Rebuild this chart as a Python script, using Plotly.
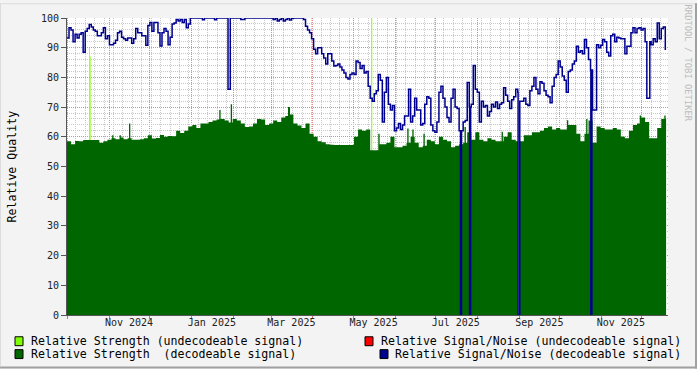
import plotly.graph_objects as go
import pandas as pd

# ---------------- data ----------------
START = pd.Timestamp('2024-09-30 12:00')    # first sample
END = pd.Timestamp('2025-12-19 02:00')      # last data time
X_RANGE = ['2024-09-30 12:00', '2025-12-20 12:00']

# Relative Signal/Noise (decodeable signal), one value per 1.5 days
SNR_STEP_DAYS = 1.5
snr_dec = [
    93.3, 96.7, 96, 92, 94.5, 93.3, 94.5, 95, 88.5, 95.5,
    96.5, 97.8, 97, 96, 95.5, 94, 94, 95, 96.7, 93,
    94, 91, 91, 91.5, 92.5, 95, 95.5, 93.5, 93, 92.5,
    93.3, 93.3, 91.5, 93, 96.5, 95, 95, 94, 94, 90.8,
    97.5, 98.5, 95.5, 98.5, 98.5, 95, 90.6, 95, 96.5, 95.5,
    91, 93.5, 98, 98.3, 99.5, 99, 99.5, 98.5, 99.5, 96.7,
    98, 100, 100, 100, 100, 100, 100, 99.4, 100, 100,
    100, 100, 100, 99.4, 100, 100, 100, 100, 100, 100,
    100, 100, 100, 100, 100, 100, 99.5, 99.5, 100, 100,
    100, 100, 100, 100, 100, 100, 100, 100, 100, 100,
    100, 100, 99.5, 100, 99, 99.5, 100, 99, 99.5, 100,
    99.3, 99.8, 100, 100, 100, 100, 100, 99.5, 97.2, 96,
    95, 93, 89.5, 88, 90, 90, 88, 86.5, 84.5, 88,
    88, 85.5, 83.8, 84, 84.5, 83.5, 82.5, 81.5, 80, 79.5,
    81, 81.5, 81, 85.5, 85, 83, 84, 81.5, 82, 77,
    73, 72, 74.5, 75.5, 81, 79, 65, 75, 80, 71,
    69, 70.5, 62, 63, 64.5, 62.5, 64, 67, 67, 76,
    65, 67, 73, 69, 69, 64, 64.5, 71, 73.5, 73,
    64, 62, 61.5, 65, 75, 77, 73, 70, 66.5, 65,
    73, 76, 70, 69.5, 62, 62, 65, 65.5, 78.3, 70,
    71, 84, 76, 75, 65, 72, 70, 70.5, 67, 68.5,
    71, 70, 71.7, 69.5, 71, 71.5, 76.5, 74, 72, 69.5,
    72.5, 73.5, 76, 75, 72, 72, 73, 71, 70.5, 75.5,
    77, 80, 76, 74.5, 78.5, 78, 75.5, 74, 73.5, 71.5,
    77, 80, 81, 85.5, 83.5, 80.5, 79, 75, 82, 82.5,
    84.5, 85.5, 90.5, 88.5, 89, 88, 92.8, 90, 86, 82.5,
    69, 69, 91, 90, 90.8, 92.8, 92, 88.5, 87.2, 94,
    94.5, 92, 93.5, 93.3, 93, 93, 88, 90.5, 90.5, 95,
    96.7, 95, 96.5, 96.7, 96, 96.5, 92, 90, 92, 91,
    93, 92, 98.3, 93, 96.5, 97, 89.5, 89.5,
]
# short events in the S/N series: (from, to, value)
snr_events = [
    ('2025-01-28 00:00', '2025-01-29 16:00', 76),
    ('2025-07-19 12:00', '2025-07-20 06:00', 0),
    ('2025-07-26 06:00', '2025-07-27 00:00', 0),
    ('2025-08-31 06:00', '2025-09-01 12:00', 0),
    ('2025-10-24 06:00', '2025-10-25 00:00', 0),
    ('2025-12-04 19:00', '2025-12-07 00:00', 73),
]

# Relative Strength (decodeable signal), one value per 3 days
STR_STEP_DAYS = 3
str_dec = [
    58.5, 57.5, 58.6, 58.5, 58.9, 58.9, 58.9, 58.9, 58, 58.5,
    59, 59.5, 59.2, 59.8, 59.2, 59.5, 59, 59, 59.2, 59.5,
    60.5, 59.4, 59.6, 60.6, 60, 60.3, 60.2, 62, 61.3, 62,
    63.5, 64, 63, 64.5, 64.5, 65, 65.5, 65.8, 66, 65.5,
    64.8, 66, 65.5, 64.5, 63.3, 63.5, 64.5, 66, 65.8, 64,
    64.5, 65.5, 65, 66.5, 67, 67.5, 64.5, 63.8, 63, 64.5,
    61, 60, 58.5, 58.2, 57.5, 57.3, 57.2, 57.2, 57.2, 57.2,
    57.2, 60, 62.5, 62, 62.5, 55.5, 55.5, 57.5, 57.5, 58,
    60, 56.5, 56.5, 57, 58, 60, 58, 56.5, 57, 59,
    58.5, 57.5, 60, 59, 58.5, 56.5, 57, 57.5, 58, 61.5,
    59, 61.5, 59, 58.5, 59.5, 59, 58.5, 58.5, 60, 61.5,
    59, 58.5, 58.5, 60.5, 60.5, 61.5, 61.5, 62, 63, 63.5,
    62.5, 63, 62.5, 62.5, 64, 64, 61, 58.5, 61, 65.5,
    58, 63.5, 63, 62.5, 62.5, 63, 62.5, 60, 59.5, 62,
    64, 64.5, 66.5, 65, 59.5, 59.5, 63, 66, 66,
]
# narrow spikes / gaps in the strength series: (from, to, value)
str_events = [
    ('2024-11-03 00:00', '2024-11-04 00:00', 60.5),
    ('2024-11-08 12:00', '2024-11-09 12:00', 60.5),
    ('2024-11-15 12:00', '2024-11-16 12:00', 64.5),
    ('2025-01-21 12:00', '2025-01-22 12:00', 69),
    ('2025-01-30 00:00', '2025-01-31 00:00', 71),
    ('2025-03-13 12:00', '2025-03-15 00:00', 70),
    ('2025-05-19 12:00', '2025-05-20 12:00', 61),
    ('2025-06-10 00:00', '2025-06-11 00:00', 62.8),
    ('2025-06-13 18:00', '2025-06-14 18:00', 62.5),
    ('2025-06-22 00:00', '2025-06-23 00:00', 61),
    ('2025-07-22 12:00', '2025-07-23 12:00', 63.3),
    ('2025-08-19 00:00', '2025-08-20 00:00', 61.7),
    ('2025-08-31 06:00', '2025-09-01 12:00', 0),
    ('2025-10-06 12:00', '2025-10-07 12:00', 65.6),
    ('2025-10-20 18:00', '2025-10-21 18:00', 66),
    ('2025-11-29 12:00', '2025-11-30 12:00', 67.2),
    ('2025-12-17 18:00', '2025-12-18 18:00', 67.2),
]

# Relative Strength (undecodeable signal): only a few short bursts
str_undec_t = ['2024-10-17 00:00', '2024-10-17 12:00', '2024-10-18 00:00',
               '2025-05-14 06:00', '2025-05-15 00:00']
str_undec_v = [90, 87, 0, 100, 0]

# axis labels and grid
TICK_DATES = ['2024-11-15 12:00', '2025-01-16', '2025-03-16', '2025-05-16',
              '2025-07-16', '2025-09-16', '2025-11-15 12:00']
TICK_LABELS = ['Nov 2024', 'Jan 2025', 'Mar 2025', 'May 2025',
               'Jul 2025', 'Sep 2025', 'Nov 2025']
MONTH_STARTS = ['2024-10-01', '2024-11-01', '2024-12-01', '2025-01-01',
                '2025-02-01', '2025-03-01', '2025-04-01', '2025-05-01',
                '2025-06-01', '2025-07-01', '2025-08-01', '2025-09-01',
                '2025-10-01', '2025-11-01', '2025-12-01']
WEEK_TICK0 = '2024-10-07'

LEGEND = [
    ('Relative Strength (undecodeable signal)', '#80FF00', 15, 30, 0),
    ('Relative Strength\u00a0 (decodeable signal)', '#006600', 15, 30, 1),
    ('Relative Signal/Noise (undecodeable signal)', '#FF0000', 365, 380, 0),
    ('Relative Signal/Noise (decodeable signal)', '#000090', 380, 394, 1),
]


def build(base, step, events):
    pts = [(START + pd.Timedelta(days=step * i), v) for i, v in enumerate(base)]
    for a, b, v in events:
        a, b = pd.Timestamp(a), pd.Timestamp(b)
        vb = [val for (tt, val) in pts if tt <= b][-1]
        pts = [(tt, val) for (tt, val) in pts if not (a <= tt <= b)]
        pts += [(a, v), (b, vb)]
        pts.sort(key=lambda p: p[0])
    pts = [p for p in pts if p[0] < END]
    pts.append((END, pts[-1][1]))
    return [p[0] for p in pts], [p[1] for p in pts]


snr_t, snr_v = build(snr_dec, SNR_STEP_DAYS, snr_events)
str_t, str_v = build(str_dec, STR_STEP_DAYS, str_events)

# ---------------- layout geometry ----------------
W, H = 697, 369
ML, MR, MT, MB = 67, 29, 15, 54
PW, PH = W - ML - MR, H - MT - MB
R0, R1 = pd.Timestamp(X_RANGE[0]), pd.Timestamp(X_RANGE[1])


def px(x):
    return (x - ML) / PW


def py(y):
    return (H - MB - y) / PH


def snap(t):
    """move a grid date onto the nearest pixel centre of the date axis"""
    t = pd.Timestamp(t)
    f = (t - R0) / (R1 - R0) * PW
    f = int(f) + 0.5
    return R0 + (R1 - R0) * (f / PW)


MONO = 'DejaVu Sans Mono'
MAJ_GRID = 'rgb(232,135,135)'
MIN_GRID = 'rgb(200,200,200)'

fig = go.Figure()
fig.add_trace(go.Scatter(x=str_undec_t, y=str_undec_v, mode='lines',
                         line=dict(shape='hv', width=0, color='#80FF00'),
                         fill='tozeroy', fillcolor='#80FF00',
                         name='Relative Strength (undecodeable signal)',
                         showlegend=False, hoverinfo='skip'))
fig.add_trace(go.Scatter(x=str_t, y=str_v, mode='lines',
                         line=dict(shape='hv', width=0, color='#006600'),
                         fill='tozeroy', fillcolor='#006600',
                         name='Relative Strength (decodeable signal)',
                         showlegend=False, hoverinfo='skip'))
fig.add_trace(go.Scatter(x=snr_t, y=snr_v, mode='lines',
                         line=dict(shape='hv', width=1.5, color='#000090'),
                         name='Relative Signal/Noise (decodeable signal)',
                         showlegend=False, hoverinfo='skip'))
# carrier for the month-label axis
fig.add_trace(go.Scatter(x=[X_RANGE[0]], y=[None], xaxis='x2', mode='lines',
                         showlegend=False, hoverinfo='skip'))

tickfont = dict(family=MONO, size=10, color='#222222')
fig.update_layout(
    width=W, height=H, autosize=False,
    margin=dict(l=ML, r=MR, t=MT, b=MB, pad=0),
    paper_bgcolor='#F3F3F3', plot_bgcolor='#FFFFFF',
    showlegend=False,
    xaxis=dict(type='date', range=X_RANGE, tickmode='array',
               tickvals=[snap(m) for m in MONTH_STARTS], showticklabels=False,
               ticks='outside', ticklen=3, tickcolor='#D07070',
               showgrid=False, zeroline=False,
               showline=True, linecolor='#555555', linewidth=1),
    xaxis2=dict(type='date', range=X_RANGE, overlaying='x', anchor='y',
                side='bottom', tickmode='array', tickvals=TICK_DATES,
                ticktext=TICK_LABELS, ticks='', showgrid=False,
                zeroline=False, showline=False, tickfont=tickfont),
    yaxis=dict(range=[0, 100], tick0=0, dtick=10, ticks='outside',
               ticklen=5, tickcolor='#555555', showline=True,
               linecolor='#555555', linewidth=1, zeroline=False,
               showgrid=True, gridcolor=MAJ_GRID,
               griddash='1px,1px', gridwidth=1, tickfont=tickfont,
               minor=dict(dtick=2, showgrid=True, gridcolor=MIN_GRID,
                          griddash='1px,1px', gridwidth=1)),
)

shapes = []
# vertical grid: weeks (grey dotted) and month starts (red dotted)
for wk in pd.date_range(WEEK_TICK0, R1, freq='7D'):
    shapes.append(dict(type='line', xref='x', yref='y', layer='below',
                       x0=snap(wk), x1=snap(wk), y0=0, y1=100,
                       line=dict(color=MIN_GRID, width=1, dash='1px,1px')))
for m in MONTH_STARTS:
    shapes.append(dict(type='line', xref='x', yref='y', layer='below',
                       x0=snap(m), x1=snap(m), y0=0, y1=100,
                       line=dict(color=MAJ_GRID, width=1, dash='1px,1px')))
# axis arrows
shapes.append(dict(type='path', xref='x', yref='y', xsizemode='pixel',
                   ysizemode='pixel', xanchor=X_RANGE[0], yanchor=100,
                   path='M -3,2 L 3,2 L 0,7 Z', fillcolor='#A02020',
                   line=dict(width=0), layer='above'))
shapes.append(dict(type='path', xref='x', yref='y', xsizemode='pixel',
                   ysizemode='pixel', xanchor=X_RANGE[1], yanchor=0,
                   path='M 1,-3 L 1,3 L 7,0 Z', fillcolor='#A02020',
                   line=dict(width=0), layer='above'))
shapes.append(dict(type='line', xref='x', yref='y', xsizemode='pixel',
                   ysizemode='pixel', xanchor=X_RANGE[0], yanchor=100,
                   x0=0, x1=0, y0=0, y1=4, line=dict(color='#555555', width=1)))
shapes.append(dict(type='line', xref='x', yref='y', xsizemode='pixel',
                   ysizemode='pixel', xanchor=X_RANGE[1], yanchor=0,
                   x0=0, x1=3, y0=0, y1=0, line=dict(color='#555555', width=1)))
# canvas frame
shapes.append(dict(type='rect', xref='paper', yref='paper', x0=px(695), x1=px(697),
                   y0=py(369), y1=py(0), fillcolor='#A0A0A0', line=dict(width=0)))
shapes.append(dict(type='rect', xref='paper', yref='paper', x0=px(0), x1=px(697),
                   y0=py(369), y1=py(367), fillcolor='#A0A0A0', line=dict(width=0)))
shapes.append(dict(type='rect', xref='paper', yref='paper', x0=px(0), x1=px(695),
                   y0=py(1), y1=py(0), fillcolor='#DCDCDC', line=dict(width=0)))
shapes.append(dict(type='rect', xref='paper', yref='paper', x0=px(0), x1=px(1),
                   y0=py(367), y1=py(0), fillcolor='#DCDCDC', line=dict(width=0)))

annotations = []
for text, color, sqx, tx, row in LEGEND:
    y0 = 337 + 13 * row
    shapes.append(dict(type='rect', xref='paper', yref='paper',
                       x0=px(sqx), x1=px(sqx + 8), y0=py(y0 + 9), y1=py(y0),
                       fillcolor=color, line=dict(color='#000000', width=1)))
    annotations.append(dict(xref='paper', yref='paper', x=px(tx), y=py(y0 + 4.5),
                            xanchor='left', yanchor='middle', showarrow=False,
                            text=text, borderpad=0,
                            font=dict(family=MONO, size=11.6, color='#000000')))

annotations.append(dict(xref='paper', yref='paper', x=px(11), y=py(165),
                        xanchor='center', yanchor='middle', showarrow=False,
                        text='Relative Quality', textangle=-90, borderpad=0,
                        font=dict(family=MONO, size=11.6, color='#000000')))
annotations.append(dict(xref='paper', yref='paper', x=px(688), y=py(60),
                        xanchor='center', yanchor='middle', showarrow=False,
                        text='RRDTOOL / TOBI OETIKER', textangle=90, borderpad=0,
                        font=dict(family=MONO, size=8.8, color='#BDBDBD')))

fig.update_layout(shapes=shapes, annotations=annotations)
fig.write_html('out.html')
